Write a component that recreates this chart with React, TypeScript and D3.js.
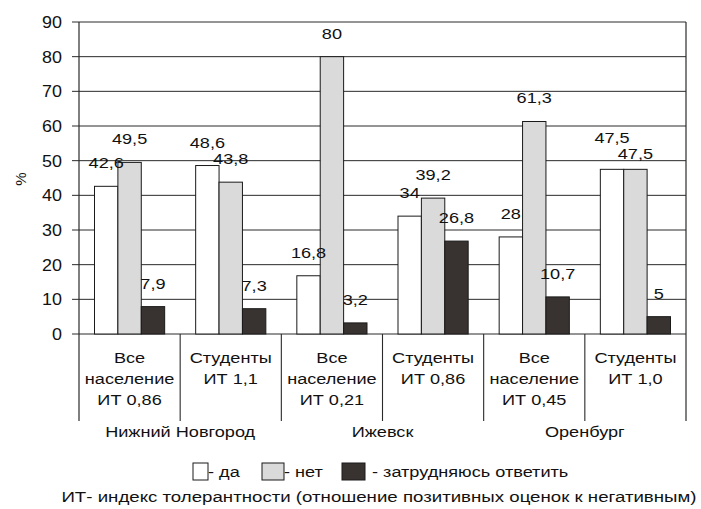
import React from "react";
import * as d3 from "d3";

const categoryLines: string[][] = [
  ["Все", "население", "ИТ 0,86"],
  ["Студенты", "ИТ 1,1"],
  ["Все", "население", "ИТ 0,21"],
  ["Студенты", "ИТ 0,86"],
  ["Все", "население", "ИТ 0,45"],
  ["Студенты", "ИТ 1,0"],
];
const cities = ["Нижний Новгород", "Ижевск", "Оренбург"];
const seriesNames = ["- да", "- нет", "- затрудняюсь ответить"];
const daValues = [42.6, 48.6, 16.8, 34, 28, 47.5];
const netValues = [49.5, 43.8, 80, 39.2, 61.3, 47.5];
const hardValues = [7.9, 7.3, 3.2, 26.8, 10.7, 5];
const yTicks = [0, 10, 20, 30, 40, 50, 60, 70, 80, 90];
const yLabel = "%";
const footnote = "ИТ- индекс толерантности (отношение позитивных оценок к негативным)";

const W = 701;
const H = 509;
const FONT = "'Liberation Sans', Arial, sans-serif";
const SX = 1.21;
const colors = ["#ffffff", "#dadada", "#383330"];
const LINE = "#2a2a2a";

function T(props: { x: number; y: number; anchor?: string; size?: number; sx?: number; children: React.ReactNode }) {
  const { x, y, anchor = "middle", size = 15, sx = SX } = props;
  return (
    <text
      transform={`translate(${x},${y}) scale(${sx},1)`}
      textAnchor={anchor as any}
      fontSize={size}
      fontFamily={FONT}
      fill="#111"
    >
      {props.children}
    </text>
  );
}

export default function App() {
  const left = 79;
  const right = 686;
  const top = 22;
  const bottom = 334;
  const sepBottom = 421;

  const series = [daValues, netValues, hardValues];
  const idx = categoryLines.map((_, i) => i);
  const x0 = d3.scaleBand<number>().domain(idx).range([left, right]).paddingInner(0).paddingOuter(0);
  const bw = x0.bandwidth();
  const x1 = d3.scaleBand<number>().domain([0, 1, 2]).range([15.5, bw - 15.5]).padding(0);
  const y = d3.scaleLinear().domain([0, 90]).range([bottom, top]);

  const fmt = (v: number) => String(v).replace(".", ",");

  type Lab = { x: number; y: number; text: string };
  const labels: Lab[] = [];
  idx.forEach((ci) => {
    const group: Lab[] = series.map((s, si) => ({
      x: (x0(ci) as number) + (x1(si) as number) + x1.bandwidth() / 2,
      y: y(s[ci]) - 18,
      text: fmt(s[ci]),
    }));
    for (let k = 0; k < group.length - 1; k++) {
      const a = group[k];
      const b = group[k + 1];
      if (Math.abs(a.y - b.y) < 14) {
        a.y -= 8;
        b.y += 8;
      }
    }
    labels.push(...group);
  });

  const legendItems = [
    { x: 193, w: 15, label: seriesNames[0], tx: 208 },
    { x: 262, w: 22, label: seriesNames[1], tx: 284 },
    { x: 342, w: 23, label: seriesNames[2], tx: 372 },
  ];

  return (
    <svg
      width={W}
      height={H}
      style={{ position: "absolute", left: 0, top: 0, background: "#fff" }}
      xmlns="http://www.w3.org/2000/svg"
    >
      <rect x={0} y={0} width={W} height={H} fill="#fff" />
      {yTicks.map((t) => (
        <line key={"g" + t} x1={left - 7} x2={right} y1={y(t)} y2={y(t)} stroke={LINE} strokeWidth={1} />
      ))}
      <line x1={left} x2={left} y1={top} y2={sepBottom} stroke={LINE} strokeWidth={1.2} />
      <line x1={right} x2={right} y1={top} y2={sepBottom} stroke={LINE} strokeWidth={1.2} />
      {idx.slice(1).map((i) => (
        <line key={"s" + i} x1={x0(i) as number} x2={x0(i) as number} y1={bottom} y2={sepBottom} stroke={LINE} strokeWidth={1.1} />
      ))}
      {yTicks.map((t) => (
        <T key={"t" + t} x={62} y={y(t) + 6} anchor="end" size={16} sx={1.12}>
          {t}
        </T>
      ))}
      <text
        transform={`translate(26,179) rotate(-90)`}
        textAnchor="middle"
        fontSize={15}
        fontFamily={FONT}
        fill="#111"
      >
        {yLabel}
      </text>
      {idx.map((ci) =>
        series.map((s, si) => (
          <rect
            key={`b${ci}-${si}`}
            x={(x0(ci) as number) + (x1(si) as number)}
            y={y(s[ci])}
            width={x1.bandwidth()}
            height={bottom - y(s[ci])}
            fill={colors[si]}
            stroke="#1a1a1a"
            strokeWidth={1}
          />
        ))
      )}
      {labels.map((l, i) => (
        <T key={"v" + i} x={l.x} y={l.y}>
          {l.text}
        </T>
      ))}
      {categoryLines.map((lines, ci) =>
        lines.map((ln, li) => (
          <T key={`c${ci}-${li}`} x={(x0(ci) as number) + bw / 2} y={363 + li * 21}>
            {ln}
          </T>
        ))
      )}
      {cities.map((c, k) => (
        <T key={"city" + k} x={x0(k * 2 + 1) as number} y={437}>
          {c}
        </T>
      ))}
      {legendItems.map((it, k) => (
        <g key={"l" + k}>
          <rect x={it.x} y={463} width={it.w} height={17} fill={colors[k]} stroke="#1a1a1a" strokeWidth={1} />
          <T x={it.tx} y={477} anchor="start">
            {it.label}
          </T>
        </g>
      ))}
      <T x={379} y={502} sx={1.245}>
        {footnote}
      </T>
    </svg>
  );
}
